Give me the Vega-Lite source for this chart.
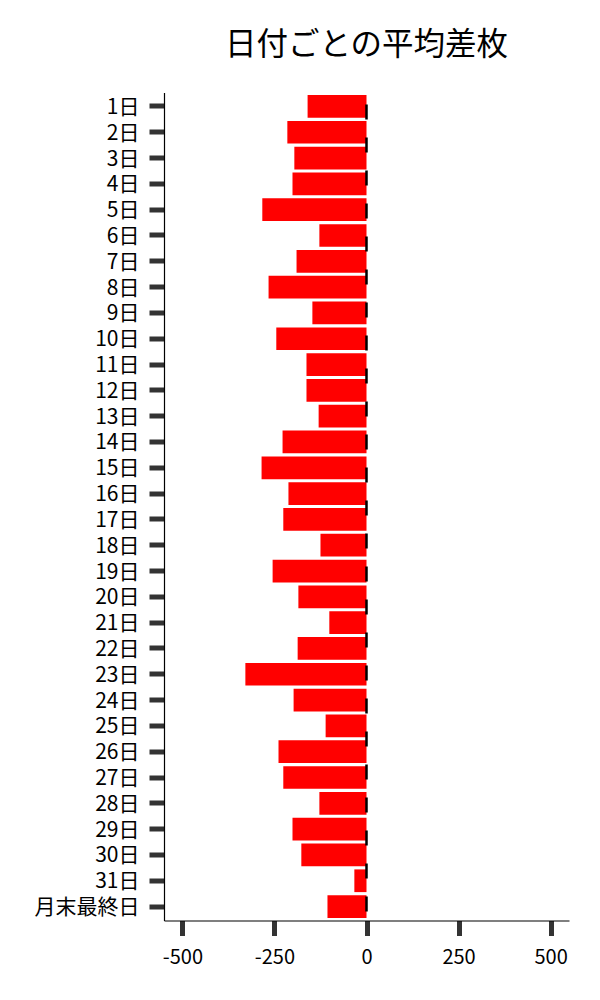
{
  "$schema": "https://vega.github.io/schema/vega-lite/v6.json",
  "width": 405,
  "height": 828,
  "autosize": {"type": "none"},
  "padding": {"left": 164, "top": 92.5, "right": 31, "bottom": 80},
  "background": "white",
  "title": {
    "text": "日付ごとの平均差枚",
    "font": "Noto Sans CJK JP",
    "fontSize": 31.5,
    "fontWeight": "normal",
    "color": "black",
    "anchor": "middle",
    "offset": 30
  },
  "data": {
    "values": [
      {"day": "1日", "diff": -160},
      {"day": "2日", "diff": -215},
      {"day": "3日", "diff": -196},
      {"day": "4日", "diff": -201},
      {"day": "5日", "diff": -283},
      {"day": "6日", "diff": -128},
      {"day": "7日", "diff": -190},
      {"day": "8日", "diff": -266},
      {"day": "9日", "diff": -147},
      {"day": "10日", "diff": -245},
      {"day": "11日", "diff": -163},
      {"day": "12日", "diff": -163},
      {"day": "13日", "diff": -130},
      {"day": "14日", "diff": -228},
      {"day": "15日", "diff": -285},
      {"day": "16日", "diff": -212},
      {"day": "17日", "diff": -226},
      {"day": "18日", "diff": -125},
      {"day": "19日", "diff": -255},
      {"day": "20日", "diff": -185},
      {"day": "21日", "diff": -101},
      {"day": "22日", "diff": -187},
      {"day": "23日", "diff": -329},
      {"day": "24日", "diff": -198},
      {"day": "25日", "diff": -111},
      {"day": "26日", "diff": -239},
      {"day": "27日", "diff": -226},
      {"day": "28日", "diff": -128},
      {"day": "29日", "diff": -201},
      {"day": "30日", "diff": -177},
      {"day": "31日", "diff": -33},
      {"day": "月末最終日", "diff": -106}
    ]
  },
  "layer": [
    {
      "mark": {"type": "bar", "color": "#ff0000"},
      "encoding": {
        "y": {
          "field": "day",
          "type": "nominal",
          "sort": null,
          "title": null,
          "scale": {"paddingInner": 0.12, "paddingOuter": 0.1},
          "axis": {
            "labelFont": "Noto Sans CJK JP",
            "labelFontSize": 21,
            "labelColor": "black",
            "labelPadding": 10,
            "labelOffset": 1.5,
            "labelOverlap": false,
            "tickSize": 15,
            "tickWidth": 5,
            "tickColor": "#333333",
            "domainColor": "black",
            "domainWidth": 1.2
          }
        },
        "x": {
          "field": "diff",
          "type": "quantitative",
          "title": null,
          "scale": {"domain": [-550, 550], "nice": false},
          "axis": {
            "values": [-500, -250, 0, 250, 500],
            "labelExpr": "replace(datum.label, '−', '-')",
            "grid": false,
            "labelFont": "Noto Sans CJK JP",
            "labelFontSize": 20,
            "labelColor": "black",
            "labelPadding": 12,
            "tickSize": 15,
            "tickWidth": 5,
            "tickColor": "#333333",
            "domainColor": "black",
            "domainWidth": 1.2
          }
        }
      }
    },
    {
      "data": {"values": [{"zero": 0}]},
      "mark": {"type": "rule", "color": "black", "strokeWidth": 2.5, "strokeDash": [15, 18], "strokeDashOffset": 21},
      "encoding": {
        "x": {"field": "zero", "type": "quantitative"}
      }
    }
  ],
  "config": {
    "view": {"stroke": null}
  }
}
